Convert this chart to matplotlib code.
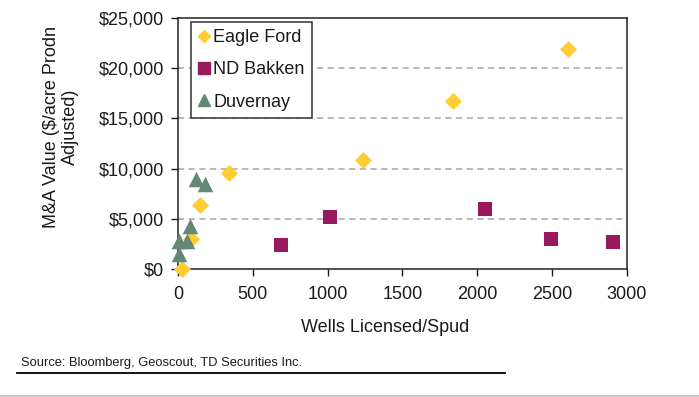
import matplotlib
matplotlib.use("Agg")
import matplotlib.pyplot as plt
from matplotlib.lines import Line2D

plt.rcParams['font.family'] = ['Liberation Sans', 'DejaVu Sans']

# Data
eagle_x = [25, 85, 150, 343, 1238, 1838, 2603]
eagle_y = [0, 3000, 6400, 9600, 10900, 16700, 21900]
bakken_x = [688, 1015, 2053, 2492, 2908]
bakken_y = [2350, 5150, 6000, 3000, 2700]
duv_x = [7, 7, 58, 80, 118, 180]
duv_y = [1500, 2750, 2750, 4250, 8950, 8500]

series_names = ["Eagle Ford", "ND Bakken", "Duvernay"]
x_ticks = [0, 500, 1000, 1500, 2000, 2500, 3000]
y_ticks = [0, 5000, 10000, 15000, 20000, 25000]
y_ticklabels = ["$0", "$5,000", "$10,000", "$15,000", "$20,000", "$25,000"]

c_eagle = "#FFCC33"
c_bakken = "#99195E"
c_duv = "#658775"

W, H = 699, 397
fig = plt.figure(figsize=(W / 100, H / 100), dpi=100)
fig.patch.set_facecolor("white")

L, R, T, B = 178, 627, 18, 269
ax = fig.add_axes([L / W, 1 - B / H, (R - L) / W, (B - T) / H])

ax.set_xlim(0, 3000)
ax.set_ylim(0, 25000)

for y in y_ticks[1:-1]:
    ax.axhline(y, color="#A6A6A6", lw=1.1, ls=(0, (4, 3)), zorder=0)

ax.scatter(eagle_x, eagle_y, marker="D", s=75, color=c_eagle, zorder=3,
           linewidths=0, clip_on=False)
ax.scatter(bakken_x, bakken_y, marker="s", s=115, color=c_bakken, zorder=3,
           linewidths=0, clip_on=False)
ax.scatter(duv_x, duv_y, marker="^", s=125, color=c_duv, zorder=4,
           linewidths=0, clip_on=False)

ax.set_xticks(x_ticks)
ax.set_xticklabels([str(v) for v in x_ticks])
ax.set_yticks(y_ticks)
ax.set_yticklabels(y_ticklabels)
ax.tick_params(axis="both", direction="out", length=5, width=1, labelsize=13,
               colors="#1a1a1a", pad=5)
ax.tick_params(axis="x", pad=7)

for s in ax.spines.values():
    s.set_color("#222222")
    s.set_linewidth(1.1)

handles = [
    Line2D([], [], marker="D", ls="none", color=c_eagle, markersize=6),
    Line2D([], [], marker="s", ls="none", color=c_bakken, markersize=9),
    Line2D([], [], marker="^", ls="none", color=c_duv, markersize=8),
]
leg = ax.legend(handles, series_names, loc="upper left",
                bbox_to_anchor=((190.7 - L) / (R - L), (B - 21.7) / (B - T)),
                frameon=True, fancybox=False, fontsize=13,
                handlelength=0.7, handletextpad=0.15, labelspacing=0.85,
                borderpad=0.4, borderaxespad=0, framealpha=1)
leg.get_frame().set_edgecolor("#333333")
leg.get_frame().set_linewidth(1.1)
for t in leg.get_texts():
    t.set_color("#1a1a1a")

fig.text(61 / W, 1 - 127 / H, "M&A Value ($/acre Prodn\nAdjusted)", rotation=90,
         ha="center", va="center", fontsize=13, color="#1a1a1a",
         multialignment="center", linespacing=1.15)
fig.text(385 / W, 1 - 328 / H, "Wells Licensed/Spud", ha="center", va="center",
         fontsize=13, color="#1a1a1a")
fig.text(21 / W, 1 - 363 / H, "Source: Bloomberg, Geoscout, TD Securities Inc.",
         ha="left", va="center", fontsize=9.3, color="#1a1a1a")

fig.add_artist(Line2D([17 / W, 505 / W], [1 - 372.5 / H] * 2, color="black", lw=1.3))
fig.add_artist(Line2D([0, 1], [1 - 395.5 / H] * 2, color="#C8C8C8", lw=1.5))

fig.savefig("out.png", dpi=100)
